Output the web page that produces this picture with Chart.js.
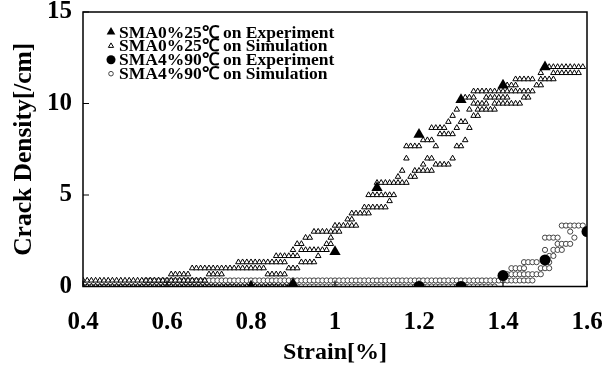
<!DOCTYPE html>
<html>
<head>
<meta charset="utf-8">
<script src="https://cdn.jsdelivr.net/npm/chart.js@4.4.1/dist/chart.umd.min.js"></script>
<style>
  html, body { margin: 0; padding: 0; background: #fff; }
  canvas { display: block; }
</style>
</head>
<body>
<canvas id="c" width="603" height="369"></canvas>
<script>
// Axis tick labels
const xTickLabels = ['0.4', '0.6', '0.8', '1', '1.2', '1.4', '1.6'];
const yTickLabels = ['0', '5', '10', '15'];

// Series names
const seriesNames = [
  'SMA0%25\u2103 on Experiment',
  'SMA0%25\u2103 on Simulation',
  'SMA4%90\u2103 on Experiment',
  'SMA4%90\u2103 on Simulation'
];

// Measured crack density, SMA0% at 25°C
const sma0ExpStrain = [0.8, 0.9, 1.0, 1.1, 1.2, 1.3, 1.4, 1.5];
const sma0ExpDensity = [0.0, 0.15, 1.9, 5.4, 8.3, 10.2, 11.0, 12.0];

// Measured crack density, SMA4% at 90°C
const sma4ExpStrain = [1.2, 1.3, 1.4, 1.5, 1.6];
const sma4ExpDensity = [0.0, 0.0, 0.6, 1.45, 3.0];

// Simulated crack density, SMA0% at 25°C: [density, strains at that density]
const sma0SimRows = [
  [0.00, [0.40,0.41,0.42,0.43,0.44,0.45,0.46,0.47,0.48,0.49,0.50,0.51,0.52,0.53,0.54,0.55,0.56,0.57,0.58,0.59,0.60,0.61,0.62,0.63,0.64,0.65,0.66,0.67,0.68,0.69,0.70,0.71,0.72,0.73,0.74,0.75,0.76,0.77,0.78,0.79,0.80,0.81,0.82,0.83,0.84,0.85,0.86,0.87,0.88,0.89,0.90]],
  [0.33, [0.40,0.41,0.42,0.43,0.44,0.45,0.46,0.47,0.48,0.49,0.50,0.51,0.52,0.53,0.54,0.55,0.56,0.57,0.58,0.59,0.60,0.61,0.62,0.63,0.64,0.65,0.66,0.67,0.68,0.69]],
  [0.67, [0.61,0.62,0.63,0.64,0.65,0.70,0.71,0.72,0.73,0.84,0.85,0.86,0.87,0.88]],
  [1.00, [0.66,0.67,0.68,0.69,0.70,0.71,0.72,0.73,0.74,0.75,0.76,0.77,0.78,0.79,0.80,0.81,0.82,0.83,0.89,0.90,0.91]],
  [1.33, [0.77,0.78,0.79,0.80,0.81,0.82,0.83,0.84,0.85,0.86,0.87,0.88,0.92,0.93,0.94,0.95]],
  [1.67, [0.86,0.87,0.88,0.89,0.90,0.91,0.96]],
  [2.00, [0.90,0.92,0.93,0.94,0.95,0.96,0.97,0.98]],
  [2.33, [0.91,0.92,0.98,0.99]],
  [2.67, [0.93,0.94,0.99]],
  [3.00, [0.95,0.96,0.97,0.98,0.99,1.00,1.01]],
  [3.33, [1.00,1.01,1.02,1.03,1.04,1.05]],
  [3.67, [1.03,1.04]],
  [4.00, [1.04,1.05,1.06,1.07,1.08]],
  [4.33, [1.07,1.08,1.09,1.10,1.11,1.12]],
  [4.67, [1.13]],
  [5.00, [1.08,1.09,1.10,1.11,1.12,1.13,1.14]],
  [5.67, [1.10,1.11,1.12,1.13,1.14,1.15,1.16,1.17]],
  [6.00, [1.15,1.18,1.19]],
  [6.33, [1.16,1.19,1.20,1.21,1.22,1.23]],
  [6.67, [1.21,1.24,1.25,1.26,1.27]],
  [7.00, [1.17,1.22,1.23,1.28]],
  [7.67, [1.17,1.18,1.19,1.20,1.24,1.29,1.30]],
  [8.00, [1.21,1.22,1.23,1.31]],
  [8.33, [1.25,1.26,1.27,1.28]],
  [8.67, [1.23,1.24,1.25,1.26,1.29,1.32]],
  [9.00, [1.27,1.30,1.31]],
  [9.33, [1.28,1.33,1.34]],
  [9.67, [1.29,1.32,1.34,1.35,1.36,1.37,1.38]],
  [10.00, [1.33,1.34,1.35,1.36,1.38,1.39,1.40,1.41,1.42,1.43,1.44]],
  [10.33, [1.31,1.32,1.33,1.36,1.37,1.38,1.39,1.40,1.41,1.45,1.46]],
  [10.67, [1.33,1.34,1.35,1.36,1.37,1.38,1.39,1.40,1.41,1.42,1.43,1.44,1.45,1.46,1.47]],
  [11.00, [1.41,1.42,1.43,1.48,1.49]],
  [11.33, [1.43,1.44,1.45,1.46,1.47,1.49,1.50,1.51,1.52]],
  [11.67, [1.49,1.52,1.53,1.54,1.55,1.56,1.57,1.58]],
  [12.00, [1.50,1.51,1.52,1.53,1.54,1.55,1.56,1.57,1.58,1.59]]
];

// Simulated crack density, SMA4% at 90°C: [density, strains at that density]
const sma4SimRows = [
  [0.00, [0.40,0.41,0.42,0.43,0.44,0.45,0.46,0.47,0.48,0.49,0.50,0.51,0.52,0.53,0.54,0.55,0.56,0.57,0.58,0.59,0.60,0.61,0.62,0.63,0.64,0.65,0.66,0.67,0.68,0.69,0.70,0.71,0.72,0.73,0.74,0.75,0.76,0.77,0.78,0.79,0.80,0.81,0.82,0.83,0.84,0.85,0.86,0.87,0.88,0.89,0.90,0.91,0.92,0.93,0.94,0.95,0.96,0.97,0.98,0.99,1.00,1.01,1.02,1.03,1.04,1.05,1.06,1.07,1.08,1.09,1.10,1.11,1.12,1.13,1.14,1.15,1.16,1.17,1.18,1.19,1.20,1.21,1.22,1.23,1.24,1.25,1.26,1.27,1.28,1.29,1.30,1.31,1.32,1.33,1.34,1.35,1.36,1.37,1.38]],
  [0.33, [0.55,0.56,0.57,0.58,0.59,0.60,0.61,0.62,0.63,0.64,0.65,0.66,0.67,0.68,0.69,0.70,0.71,0.72,0.73,0.74,0.75,0.76,0.77,0.78,0.79,0.80,0.81,0.82,0.83,0.84,0.85,0.86,0.87,0.88,0.89,0.90,0.91,0.92,0.93,0.94,0.95,0.96,0.97,0.98,0.99,1.00,1.01,1.02,1.03,1.04,1.05,1.06,1.07,1.08,1.09,1.10,1.11,1.12,1.13,1.14,1.15,1.16,1.17,1.18,1.19,1.20,1.21,1.22,1.23,1.24,1.25,1.26,1.27,1.28,1.29,1.30,1.31,1.32,1.33,1.34,1.35,1.36,1.37,1.38,1.39,1.40,1.41,1.42,1.43,1.44,1.45,1.46,1.47]],
  [0.67, [1.40,1.41,1.42,1.43,1.44,1.45,1.46,1.47,1.48,1.49]],
  [1.00, [1.42,1.43,1.44,1.45,1.49,1.50,1.51]],
  [1.33, [1.45,1.46,1.47,1.48,1.50,1.51]],
  [1.67, [1.51,1.52]],
  [2.00, [1.50,1.52,1.53,1.54]],
  [2.33, [1.53,1.54,1.55,1.56]],
  [2.67, [1.50,1.51,1.52,1.53,1.57]],
  [3.00, [1.56]],
  [3.33, [1.54,1.55,1.56,1.57,1.58,1.59]]
];

const pairs = (xs, ys) => xs.map((x, i) => ({ x, y: ys[i] }));
const fromRows = rows => rows.flatMap(([d, xs]) => xs.map(x => ({ x, y: d })));

const SERIF = '"Liberation Serif", "Times New Roman", serif';

// Boxed frame with inward tick marks
const framePlugin = {
  id: 'frame',
  afterDatasetsDraw(chart) {
    const { ctx, chartArea: a, scales } = chart;
    ctx.save();
    ctx.strokeStyle = '#000';
    ctx.lineWidth = 1.5;
    ctx.strokeRect(a.left, a.top, a.right - a.left, a.bottom - a.top);
    ctx.lineWidth = 1.2;
    ctx.beginPath();
    scales.x.ticks.forEach((t, i) => {
      const px = scales.x.getPixelForTick(i);
      ctx.moveTo(px, a.bottom);
      ctx.lineTo(px, a.bottom - 6);
    });
    scales.y.ticks.forEach((t, i) => {
      const py = scales.y.getPixelForTick(i);
      ctx.moveTo(a.left, py);
      ctx.lineTo(a.left + 6, py);
    });
    ctx.stroke();
    ctx.restore();
  }
};

// Legend stacked inside the plot, upper left
const legendPlugin = {
  id: 'markerLegend',
  afterDraw(chart) {
    const { ctx, chartArea: a } = chart;
    ctx.save();
    ctx.font = 'bold 17.5px ' + SERIF;
    ctx.textBaseline = 'middle';
    ctx.textAlign = 'left';
    chart.data.datasets.forEach((ds, i) => {
      const y = a.top + 20 + i * 13.9;
      const x = a.left + 28;
      ctx.fillStyle = ds.backgroundColor;
      ctx.strokeStyle = ds.borderColor;
      ctx.lineWidth = ds.borderWidth;
      Chart.helpers.drawPoint(ctx, {
        pointStyle: ds.pointStyle,
        radius: ds.legendRadius,
        borderWidth: ds.borderWidth,
        rotation: 0
      }, x, y);
      ctx.fillStyle = '#000';
      ctx.fillText(ds.label, x + 8, y + 1);
    });
    ctx.restore();
  }
};

new Chart(document.getElementById('c'), {
  type: 'scatter',
  data: {
    datasets: [
      {
        label: seriesNames[0],
        data: pairs(sma0ExpStrain, sma0ExpDensity),
        pointStyle: 'triangle', pointRadius: 6.5, legendRadius: 5,
        backgroundColor: '#000', borderColor: '#000', borderWidth: 0,
        order: 0
      },
      {
        label: seriesNames[1],
        data: fromRows(sma0SimRows),
        pointStyle: 'triangle', pointRadius: 3.2, legendRadius: 3,
        backgroundColor: '#fff', borderColor: '#000', borderWidth: 1,
        order: 2
      },
      {
        label: seriesNames[2],
        data: pairs(sma4ExpStrain, sma4ExpDensity),
        pointStyle: 'circle', pointRadius: 5.5, legendRadius: 4.5,
        backgroundColor: '#000', borderColor: '#000', borderWidth: 0,
        order: 1
      },
      {
        label: seriesNames[3],
        data: fromRows(sma4SimRows),
        pointStyle: 'circle', pointRadius: 2.6, legendRadius: 2.3,
        backgroundColor: '#fff', borderColor: '#444', borderWidth: 1,
        order: 3
      }
    ]
  },
  options: {
    responsive: false,
    animation: false,
    events: [],
    layout: { padding: { top: 12, right: 16, left: 0, bottom: 0 } },
    plugins: { legend: { display: false }, tooltip: { enabled: false } },
    scales: {
      x: {
        type: 'linear', min: 0.4, max: 1.6,
        grid: { display: false, drawTicks: false },
        border: { display: false },
        ticks: {
          stepSize: 0.2, autoSkip: false, maxRotation: 0,
          padding: 24, color: '#000',
          font: { family: SERIF, size: 25, weight: 'bold', lineHeight: 1 },
          callback: (v, i) => xTickLabels[i]
        },
        title: {
          display: true, text: 'Strain[%]', color: '#000',
          font: { family: SERIF, size: 24, weight: 'bold', lineHeight: 1.2 },
          padding: { top: 0, bottom: 2 }
        },
        afterFit: s => { s.height = 82.5; s.paddingLeft = 0; s.paddingRight = 0; }
      },
      y: {
        type: 'linear', min: 0, max: 15,
        grid: { display: false, drawTicks: false },
        border: { display: false },
        ticks: {
          stepSize: 5, padding: 11, color: '#000',
          font: { family: SERIF, size: 25, weight: 'bold', lineHeight: 1 },
          callback: (v, i) => yTickLabels[i]
        },
        title: {
          display: true, text: 'Crack Density[/cm]', color: '#000',
          font: { family: SERIF, size: 25.5, weight: 'bold', lineHeight: 1.2 },
          padding: { top: 9, bottom: 0 }
        },
        afterFit: s => { s.width = 83; s.paddingTop = 0; s.paddingBottom = 0; }
      }
    }
  },
  plugins: [framePlugin, legendPlugin]
});
</script>
</body>
</html>
